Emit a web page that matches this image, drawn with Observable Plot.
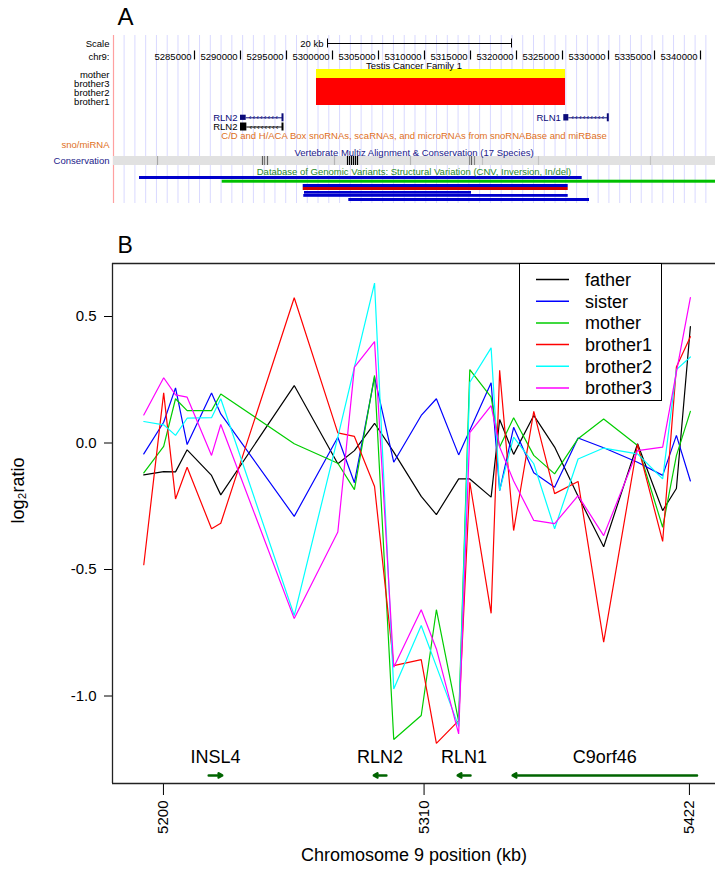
<!DOCTYPE html>
<html>
<head>
<meta charset="utf-8">
<script src="https://cdn.jsdelivr.net/npm/d3@7"></script>
<script src="https://cdn.jsdelivr.net/npm/@observablehq/plot@0.6"></script>
<style>
  body { margin: 0; background: #fff; font-family: "Liberation Sans", Arial, Helvetica, sans-serif; }
  #root { position: relative; width: 715px; height: 876px; overflow: hidden; background: #fff; }
  #panelA { position: absolute; left: 0; top: 0; }
  #panelB { position: absolute; left: 0; top: 210px; }
  #legend { position: absolute; left: 519px; top: 263px; width: 143px; height: 138px;
            box-sizing: border-box; border: 1px solid #000; background: #fff; }
  svg { display: block; }
</style>
</head>
<body>
<div id="root">
  <div id="panelA"></div>
  <div id="panelB"></div>
  <div id="legend"></div>
</div>
<script>
const FONT = "'Liberation Sans', Arial, Helvetica, sans-serif";

// ---------------- Panel B data ----------------
const samples = ["father", "sister", "mother", "brother1", "brother2", "brother3"];
const sampleColors = ["#000000", "#0000ff", "#00cd00", "#ff0000", "#00ffff", "#ff00ff"];

// probe positions (kb)
const positionsKb = [5191.7, 5200.1, 5205.1, 5210.0, 5220.3, 5224.2, 5255.2, 5273.6, 5280.6, 5289.1,
  5297.2, 5308.8, 5315.2, 5324.6, 5329.3, 5338.3, 5341.9, 5347.8, 5356.3, 5365.1,
  5375.0, 5385.8, 5400.1, 5410.7, 5416.5, 5422.4];

const father = [-0.126, -0.113, -0.114, -0.027, -0.128, -0.205, 0.227, -0.082, -0.03, 0.078,
  -0.036, -0.211, -0.283, -0.142, -0.142, -0.214, 0.093, -0.045, 0.109, -0.016,
  -0.21, -0.41, -0.003, -0.267, -0.18, 0.46];
const sister = [-0.043, 0.082, 0.218, -0.006, 0.198, 0.115, -0.29, 0.023, -0.157, 0.26,
  -0.076, 0.109, 0.175, -0.047, 0.05, 0.238, -0.188, 0.062, -0.118, -0.175,
  0.02, -0.019, -0.076, -0.128, 0.03, -0.15];
const mother = [-0.118, -0.013, 0.175, 0.128, 0.128, 0.194, -0.003, -0.08, -0.184, 0.267,
  -1.172, -1.077, -0.659, -1.1, 0.29, 0.181, -0.016, 0.1, -0.049, -0.122,
  0.017, 0.095, -0.01, -0.333, -0.05, 0.125];
const brother1 = [-0.481, 0.198, -0.221, -0.096, -0.339, -0.317, 0.574, 0.04, 0.026, -0.172,
  -0.88, -0.856, -1.187, -1.097, -0.155, -0.673, 0.287, -0.346, 0.125, -0.2,
  -0.152, -0.787, -0.005, -0.389, 0.3, 0.42];
const brother2 = [0.085, 0.072, 0.03, 0.098, 0.1, 0.175, -0.682, 0.023, 0.3, 0.632,
  -0.972, -0.721, -0.883, -1.12, 0.24, 0.376, -0.188, 0.023, -0.082, -0.339,
  -0.063, -0.02, -0.043, -0.142, 0.29, 0.34];
const brother3 = [0.111, 0.258, 0.19, 0.181, -0.049, 0.073, -0.694, -0.352, 0.3, 0.401,
  -0.886, -0.659, -0.814, -1.15, 0.041, 0.148, -0.016, -0.15, -0.306, -0.319,
  -0.208, -0.366, -0.03, -0.016, 0.28, 0.575];

const seriesValues = [father, sister, mother, brother1, brother2, brother3];

const xTicksB = [5200, 5310, 5422];
const yTicksB = [-1.0, -0.5, 0.0, 0.5];

// genes annotated below the profile (kb)
const geneNames = ["INSL4", "RLN2", "RLN1", "C9orf46"];
const geneStart = [5219.1, 5288.8, 5324.2, 5347.4];
const geneEnd = [5224.8, 5294.1, 5329.6, 5425.2];
const geneStrand = ["+", "-", "-", "-"];

// ---------------- Panel A data (bp) ----------------
const rulerTicks = [5285000, 5290000, 5295000, 5300000, 5305000, 5310000, 5315000,
  5320000, 5325000, 5330000, 5335000, 5340000];
const scaleBarStart = 5299457, scaleBarEnd = 5319457;
const cnvSamples = ["mother", "brother3", "brother2", "brother1"];
const cnvStart = [5298261, 5298261, 5298261, 5298261];
const cnvEnd = [5325326, 5325326, 5325326, 5325326];
const refGeneNames = ["RLN2", "RLN2", "RLN1"];
const refGeneTrack = ["RLN2a", "RLN2b", "RLN1"];
const refTxStart = [5290000, 5290000, 5325141];
const refTxEnd = [5294565, 5294565, 5329924];
const refBlockEnd = [5290620, 5290690, 5325685];
const consPos = [5280978, 5292391, 5292609, 5292935, 5300217, 5301630, 5301848, 5302065,
  5302283, 5302500, 5302717, 5308478, 5314891, 5315109, 5315435, 5316304, 5322391, 5334565];
const consScore = [0.45, 0.7, 0.6, 0.7, 0.4, 1, 1, 1, 1, 1, 1, 0.4, 0.55, 0.7, 0.55, 0.35, 0.35, 0.35];
const dgvType = ["CNV", "InDel", "CNV", "Inversion", "CNV", "CNV", "CNV"];
const dgvStart = [5279022, 5288011, 5296815, 5296815, 5296957, 5296880, 5301772];
const dgvEnd = [5327141, 5345000, 5325620, 5325620, 5315109, 5325620, 5327935];

// ---------------- Panel A ----------------
const xDomA = [5276087, 5341630];
const LA = { // layout rows (px)
  gridTop: 35, gridBottom: 203, scale: 43, ruler: 56, cnvTitle: 65,
  cnvRows: {mother: [69, 78], brother3: [78, 87], brother2: [87, 96], brother1: [96, 105]},
  labelY: {mother: 74.5, brother3: 83, brother2: 92, brother1: 101},
  genes: {RLN2a: 117.3, RLN2b: 126.5, RLN1: 117.3},
  geneColor: {RLN2a: "#0a0a7a", RLN2b: "#000000", RLN1: "#0a0a7a"},
  blockHalf: {RLN2a: 2.6, RLN2b: 4, RLN1: 3.2},
  snoTitle: 135.5, sno: 144, consTitle: 152, cons: [156, 165], consLabel: 160.5,
  dgvTitle: 171, dgvRows: [[176, 179], [179.7, 182.7], [184, 187], [187, 190], [191, 193.7], [194, 196.8], [198, 201]]
};
const dgvColor = {CNV: "#0000cc", InDel: "#00c000", Inversion: "#cc0000"};
const cnvColor = {mother: "#ffff00", brother3: "#ff0000", brother2: "#ff0000", brother1: "#ff0000"};
const midA = (xDomA[0] + xDomA[1]) / 2;

const cnvData = cnvSamples.map((s, i) => ({sample: s, start: cnvStart[i], end: cnvEnd[i]}));
const genesA = refGeneNames.map((n, i) => ({name: n, track: refGeneTrack[i], txStart: refTxStart[i], txEnd: refTxEnd[i], blockEnd: refBlockEnd[i]}));
const chevrons = genesA.flatMap(g => d3.range(g.blockEnd + 420, g.txEnd - 250, 410).map(p => ({pos: p, track: g.track})));
const consData = consPos.map((p, i) => ({pos: p, score: consScore[i]}));
const dgvData = dgvType.map((t, i) => ({type: t, start: dgvStart[i], end: dgvEnd[i], row: i}));
const gridA = d3.range(5277350, xDomA[1], 1171);

const leftLabels = [
  {label: "Scale", y: LA.scale, color: "#000"},
  {label: "chr9:", y: LA.ruler, color: "#000"},
  ...cnvSamples.map(s => ({label: s, y: LA.labelY[s], color: "#000"})),
  {label: "sno/miRNA", y: LA.sno, color: "#e0701c"},
  {label: "Conservation", y: LA.consLabel, color: "#1a1a8a"}
];
const trackTitles = [
  {label: "Testis Cancer Family 1", y: LA.cnvTitle, color: "#000"},
  {label: "C/D and H/ACA Box snoRNAs, scaRNAs, and microRNAs from snoRNABase and miRBase", y: LA.snoTitle, color: "#e0701c"},
  {label: "Vertebrate Multiz Alignment & Conservation (17 Species)", y: LA.consTitle, color: "#1a1a8a"},
  {label: "Database of Genomic Variants: Structural Variation (CNV, Inversion, In/del)", y: LA.dgvTitle, color: "#2a8a2a"}
];

const plotA = Plot.plot({
  width: 715, height: 210,
  marginLeft: 112, marginRight: 0, marginTop: 0, marginBottom: 0,
  x: {domain: xDomA, axis: null},
  y: {domain: [0, 210], range: [0, 210], axis: null},
  style: {fontFamily: FONT, fontSize: "10px", background: "transparent"},
  marks: [
    Plot.ruleX(gridA, {y1: LA.gridTop, y2: LA.gridBottom, stroke: "#d9d9ff", strokeWidth: 1}),
    Plot.ruleX([xDomA[0]], {y1: LA.gridTop, y2: LA.gridBottom, stroke: "#ffa0a0", strokeWidth: 1.2, dx: 1}),
    // scale bar
    Plot.ruleY([0], {x1: scaleBarStart, x2: scaleBarEnd, y: LA.scale, stroke: "#000", strokeWidth: 1}),
    Plot.ruleX([scaleBarStart, scaleBarEnd], {y1: LA.scale - 4.5, y2: LA.scale + 4.5, stroke: "#000", strokeWidth: 1}),
    Plot.text(["20 kb"], {x: scaleBarStart, y: LA.scale, dx: -4, textAnchor: "end", fontSize: 9.5, fill: "#000"}),
    // ruler
    Plot.ruleX(rulerTicks, {y1: LA.ruler - 5.5, y2: LA.ruler + 3.5, stroke: "#000", strokeWidth: 1.2}),
    Plot.text(rulerTicks, {x: d => d, y: LA.ruler, text: d => String(d), dx: -3, textAnchor: "end", fontSize: 9.5, fill: "#000"}),
    // CNV calls
    Plot.rect(cnvData, {x1: "start", x2: "end", y1: d => LA.cnvRows[d.sample][0], y2: d => LA.cnvRows[d.sample][1], fill: d => cnvColor[d.sample]}),
    // genes
    Plot.ruleY(genesA, {x1: "blockEnd", x2: "txEnd", y: d => LA.genes[d.track], stroke: d => LA.geneColor[d.track], strokeWidth: 1}),
    Plot.text(chevrons, {x: "pos", y: d => LA.genes[d.track], text: () => "‹", fontSize: 8, fill: d => LA.geneColor[d.track]}),
    Plot.rect(genesA, {x1: "txStart", x2: "blockEnd", y1: d => LA.genes[d.track] - LA.blockHalf[d.track], y2: d => LA.genes[d.track] + LA.blockHalf[d.track], fill: d => LA.geneColor[d.track]}),
    Plot.ruleX(genesA, {x: "txEnd", y1: d => LA.genes[d.track] - 4, y2: d => LA.genes[d.track] + 4, stroke: d => LA.geneColor[d.track], strokeWidth: 2}),
    Plot.text(genesA, {x: "txStart", y: d => LA.genes[d.track], text: "name", dx: -3, textAnchor: "end", fontSize: 9.5, fill: d => LA.geneColor[d.track]}),
    // conservation
    Plot.rect([0], {x1: xDomA[0], x2: xDomA[1], y1: LA.cons[0], y2: LA.cons[1], fill: "#e1e1e1", dx: 1}),
    Plot.ruleX(consData, {x: "pos", y1: LA.cons[0], y2: LA.cons[1], stroke: d => d3.interpolateGreys(d.score), strokeWidth: 1.2}),
    // DGV
    Plot.rect(dgvData, {x1: "start", x2: "end", y1: d => LA.dgvRows[d.row][0], y2: d => LA.dgvRows[d.row][1], fill: d => dgvColor[d.type]}),
    // titles & labels
    Plot.text(trackTitles, {x: midA, y: "y", text: "label", fill: "color", fontSize: 9.5}),
    Plot.text(leftLabels, {x: xDomA[0], y: "y", text: "label", fill: "color", dx: -3, textAnchor: "end", fontSize: 9.5}),
    Plot.text(["A"], {x: xDomA[0], y: 17, dx: 5, textAnchor: "start", fontSize: 24, fill: "#000"})
  ]
});
document.getElementById("panelA").append(plotA);

// ---------------- Panel B ----------------
const xDomB = [5178.5, 5433.0];
const yDomB = [-1.3458, 0.7095];
const LB = {geneArrowY: -1.314, geneLabelY: -1.243};

const longData = samples.flatMap((s, i) => seriesValues[i].map((v, j) => ({sample: s, pos: positionsKb[j], ratio: v})));
const genesB = geneNames.map((n, i) => ({name: n, start: geneStart[i], end: geneEnd[i], strand: geneStrand[i], mid: (geneStart[i] + geneEnd[i]) / 2}));

const plotB = Plot.plot({
  width: 715, height: 666,
  marginLeft: 112, marginRight: 0, marginTop: 53, marginBottom: 93,
  x: {domain: xDomB},
  y: {domain: yDomB},
  color: {domain: samples, range: sampleColors},
  style: {fontFamily: FONT, background: "transparent", color: "#000"},
  marks: [
    Plot.axisY({ticks: yTicksB, tickSize: 8, tickPadding: 8, fontSize: 15, tickFormat: d => d.toFixed(1), label: null}),
    Plot.axisX({ticks: xTicksB, tickSize: 12, tickPadding: 5, tickRotate: -90, fontSize: 15, tickFormat: d => String(d), label: null}),
    Plot.line(longData, {x: "pos", y: "ratio", z: "sample", stroke: "sample", strokeWidth: 1.2, strokeLinejoin: "miter"}),
    Plot.arrow(genesB, {
      x1: d => d.strand === "+" ? d.start : d.end,
      x2: d => d.strand === "+" ? d.end : d.start,
      y1: LB.geneArrowY, y2: LB.geneArrowY,
      stroke: "#006400", strokeWidth: 2.5, headLength: 2.5
    }),
    Plot.text(genesB, {x: "mid", y: LB.geneLabelY, text: "name", fontSize: 18, fill: "#000"}),
    Plot.ruleX([xDomB[0]], {stroke: "#222", strokeWidth: 1.3}),
    Plot.ruleY([yDomB[0], yDomB[1]], {stroke: "#222", strokeWidth: 1.3}),
    Plot.text(["Chromosome 9 position (kb)"], {frameAnchor: "bottom", dy: 77, fontSize: 18, fill: "#000"}),
    Plot.text(["log₂ratio"], {frameAnchor: "left", dx: -94, rotate: -90, fontSize: 18, fill: "#000"}),
    Plot.text(["B"], {frameAnchor: "top-left", dx: 5, dy: -18, lineAnchor: "middle", textAnchor: "start", fontSize: 23, fill: "#000"})
  ]
});
document.getElementById("panelB").append(plotB);

// ---------------- Legend ----------------
const leg = d3.select("#legend").append("svg").attr("width", 141).attr("height", 136);
samples.forEach((s, i) => {
  const y = 15.5 + i * 21.7;
  leg.append("line").attr("x1", 16).attr("x2", 49).attr("y1", y).attr("y2", y)
    .attr("stroke", sampleColors[i]).attr("stroke-width", 1.5);
  leg.append("text").attr("x", 65).attr("y", y).attr("dy", "0.35em")
    .attr("font-family", FONT).attr("font-size", 18).text(s);
});
</script>
</body>
</html>
